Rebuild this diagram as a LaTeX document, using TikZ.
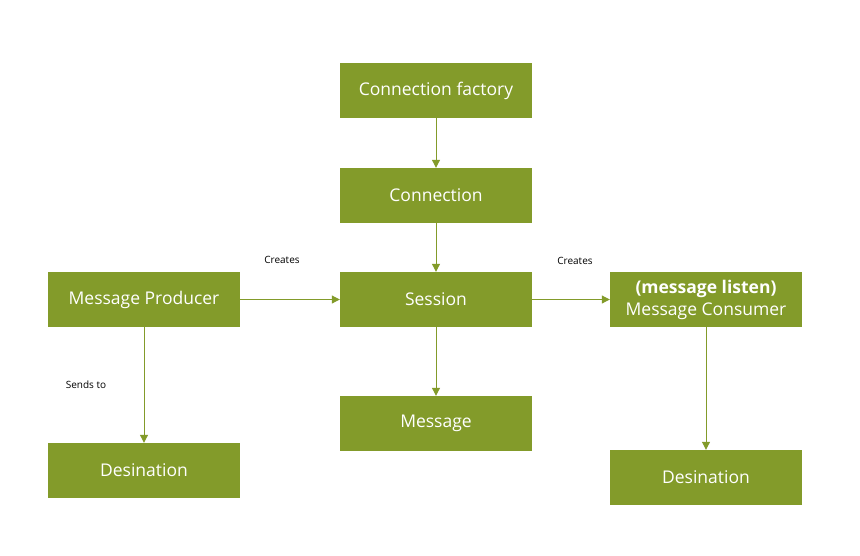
\documentclass[tikz,border=0pt]{standalone}
\usepackage{fontspec}
\setmainfont{Open Sans}
\usepackage{tikz}
\usetikzlibrary{positioning, calc, arrows.meta}
\definecolor{olive}{RGB}{131,155,42}

\begin{document}
\begin{tikzpicture}[node distance=105pt, auto, x=1pt, y=1pt]
        % Define block styles
        \tikzstyle{block} = [rectangle, fill=olive, text=white, minimum width=192pt, minimum height=55pt, inner sep=0pt, align=center, font=\fontsize{17.5}{22}\selectfont]
        \tikzstyle{link} = [draw=olive, line width=1pt, -{Triangle[length=8pt, width=8pt]}]
        \tikzstyle{note} = [font=\fontsize{10}{12}\selectfont]

        \useasboundingbox (0,0) rectangle (860,-555);

        % Place nodes
        \node [block] (factory) at (436,-90.5) {Connection factory};
        \node [block, below of=factory] (connection) {Connection};
        \node [block, below of=connection, node distance=104pt] (session) {Session};
        \node [block, below of=session, node distance=124pt] (message) {Message};
        \node [block, left of=session, node distance=292pt] (producer) {Message Producer};
        \node [block, right of=session, node distance=270pt] (consumer) {\textbf{(message listen)}\\Message Consumer};
        \node [block, below of=producer, node distance=171pt] (dest_left) {Desination};
        \node [block, below of=consumer, node distance=178pt] (dest_right) {Desination};

        % Draw connections as arrows
        \draw [link] (factory) -- (connection);
        \draw [link] (connection) -- (session);
        \draw [link] (session) -- (message);
        \draw [link] (producer) -- (session);
        \draw [link] (session) -- (consumer);
        \draw [link] (producer) -- (dest_left);
        \draw [link] (consumer) -- (dest_right);

        % Add text on the arrows
        \node[note, xshift=-8pt, yshift=40pt] at ($(producer)!0.5!(session)$) {Creates};
        \node[note, xshift=4pt, yshift=38.5pt] at ($(session)!0.5!(consumer)$) {Creates};
        \node[note, xshift=-58pt] at ($(producer)!0.5!(dest_left)$) {Sends to};

    \end{tikzpicture}
\end{document}
